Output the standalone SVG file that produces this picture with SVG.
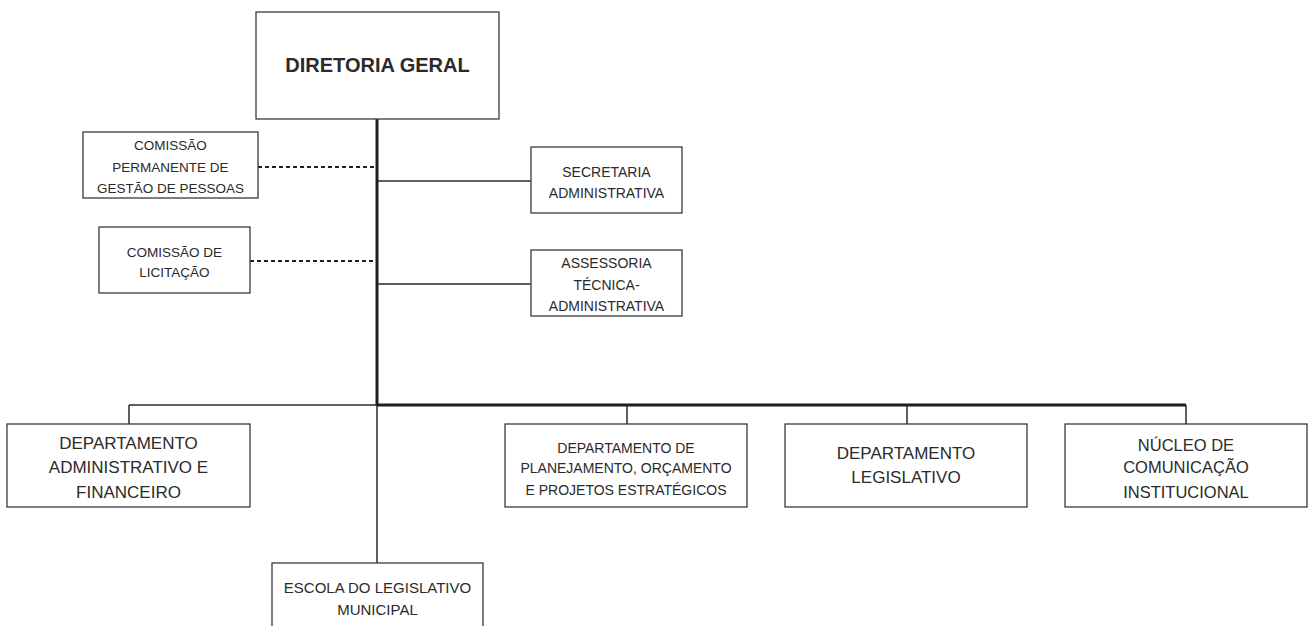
<svg xmlns="http://www.w3.org/2000/svg" width="1312" height="626" viewBox="0 0 1312 626">
<style>
.box{fill:#fff;stroke:#3a3a3a;stroke-width:1.3}
text{font-family:"Liberation Sans",Arial,sans-serif;fill:#2a2a2a;text-anchor:middle}
.thin{stroke:#2a2a2a;stroke-width:1.5;fill:none}
.thick{stroke:#1e1e1e;stroke-width:3;fill:none}
.dash{stroke:#1e1e1e;stroke-width:2;stroke-dasharray:4 3;fill:none}
</style>
<rect width="1312" height="626" fill="#fff"/>
<g id="connectors">
<line class="thick" x1="377" y1="119" x2="377" y2="406"/>
<line class="thin" x1="377" y1="405" x2="377" y2="563"/>
<line class="dash" x1="258" y1="167" x2="376" y2="167"/>
<line class="dash" x1="250" y1="261" x2="376" y2="261"/>
<line class="thin" x1="377" y1="181" x2="531" y2="181"/>
<line class="thin" x1="377" y1="284" x2="531" y2="284"/>
<line class="thin" x1="129" y1="405" x2="377" y2="405"/>
<line class="thick" x1="377" y1="405" x2="1186" y2="405"/>
<line class="thin" x1="129" y1="405" x2="129" y2="424"/>
<line class="thin" x1="627" y1="405" x2="627" y2="424"/>
<line class="thin" x1="907" y1="405" x2="907" y2="424"/>
<line class="thin" x1="1186" y1="405" x2="1186" y2="424"/>
</g>
<g id="diretoria">
<rect class="box" x="256" y="12" width="243" height="107"/>
<text x="377.5" y="72" font-size="20" font-weight="bold">DIRETORIA GERAL</text>
</g>
<g id="comissao-pessoas">
<rect class="box" x="83" y="132" width="175" height="66"/>
<text font-size="13.5"><tspan x="170.5" y="150">COMISSÃO</tspan><tspan x="170.5" y="172">PERMANENTE DE</tspan><tspan x="170.5" y="193">GESTÃO DE PESSOAS</tspan></text>
</g>
<g id="comissao-licitacao">
<rect class="box" x="99" y="227" width="151" height="66"/>
<text font-size="13.5"><tspan x="174.5" y="257">COMISSÃO DE</tspan><tspan x="174.5" y="277">LICITAÇÃO</tspan></text>
</g>
<g id="secretaria">
<rect class="box" x="531" y="147" width="151" height="66"/>
<text font-size="14"><tspan x="606.5" y="177">SECRETARIA</tspan><tspan x="606.5" y="198">ADMINISTRATIVA</tspan></text>
</g>
<g id="assessoria">
<rect class="box" x="531" y="250" width="151" height="66"/>
<text font-size="14"><tspan x="606.5" y="268">ASSESSORIA</tspan><tspan x="606.5" y="290">TÉCNICA-</tspan><tspan x="606.5" y="311">ADMINISTRATIVA</tspan></text>
</g>
<g id="dept-adm">
<rect class="box" x="7" y="424" width="243" height="83"/>
<text font-size="17"><tspan x="128.5" y="449">DEPARTAMENTO</tspan><tspan x="128.5" y="473">ADMINISTRATIVO E</tspan><tspan x="128.5" y="498">FINANCEIRO</tspan></text>
</g>
<g id="dept-planejamento">
<rect class="box" x="505" y="424" width="242" height="83"/>
<text font-size="14"><tspan x="626" y="453">DEPARTAMENTO DE</tspan><tspan x="626" y="473">PLANEJAMENTO, ORÇAMENTO</tspan><tspan x="626" y="495">E PROJETOS ESTRATÉGICOS</tspan></text>
</g>
<g id="dept-legislativo">
<rect class="box" x="785" y="424" width="242" height="83"/>
<text font-size="17"><tspan x="906" y="459">DEPARTAMENTO</tspan><tspan x="906" y="483">LEGISLATIVO</tspan></text>
</g>
<g id="nucleo">
<rect class="box" x="1065" y="424" width="242" height="83"/>
<text font-size="16.5"><tspan x="1186" y="451">NÚCLEO DE</tspan><tspan x="1186" y="473">COMUNICAÇÃO</tspan><tspan x="1186" y="498">INSTITUCIONAL</tspan></text>
</g>
<g id="escola">
<rect class="box" x="272" y="563" width="211" height="80"/>
<text font-size="15"><tspan x="377.5" y="593">ESCOLA DO LEGISLATIVO</tspan><tspan x="377.5" y="615">MUNICIPAL</tspan></text>
</g>
</svg>
